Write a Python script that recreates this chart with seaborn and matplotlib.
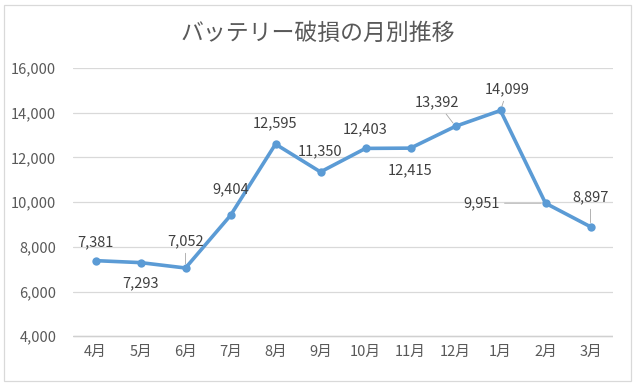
import matplotlib
matplotlib.use("Agg")
import matplotlib.pyplot as plt
import seaborn as sns
import pandas as pd
from matplotlib.patches import Rectangle

months = ["4月", "5月", "6月", "7月", "8月", "9月", "10月", "11月", "12月", "1月", "2月", "3月"]
values = [7381, 7293, 7052, 9404, 12595, 11350, 12403, 12415, 13392, 14099, 9951, 8897]
yticks = [4000, 6000, 8000, 10000, 12000, 14000, 16000]
title = "バッテリー破損の月別推移"

# label offsets in points (dx, dy) and whether to draw leader line
label_offsets = [(0, 13), (0, -15), (0, 19), (0, 19), (0, 15), (0, 15), (0, 14), (0, -16), (-13, 17), (5, 15), (-46, 0), (0, 21)]
leaders = [False, False, True, False, False, False, False, False, True, True, True, True]

sns.set_theme(style="white")
plt.rcParams['font.family'] = ['Noto Sans CJK JP', 'DejaVu Sans']

df = pd.DataFrame({"month": months, "value": values})

fig = plt.figure(figsize=(6.36, 3.85), dpi=100)
ax = fig.add_axes([73/636, 1-338/385, 540/636, 270/385])

sns.lineplot(data=df, x="month", y="value", ax=ax, color="#5B9BD5", linewidth=2.6,
             marker="o", markersize=6, markeredgewidth=0, sort=False, zorder=3)

ax.set_ylim(3920, 16000)
ax.set_yticks(yticks)
ax.set_yticklabels([f"{v:,}" for v in yticks])
ax.set_xlim(-0.5, len(months) - 0.5)
ax.yaxis.grid(True, color="#D9D9D9", linewidth=0.9)
ax.set_axisbelow(True)
ax.axhline(yticks[0], color="#D0D0D0", linewidth=1.0, zorder=1)
for s in ax.spines.values():
    s.set_visible(False)
ax.set_xlabel("")
ax.set_ylabel("")
ax.tick_params(axis="both", colors="#595959", labelsize=10.5, length=0)
ax.tick_params(axis="y", pad=12)
ax.tick_params(axis="x", pad=5)

for i, (v, (dx, dy), ld) in enumerate(zip(values, label_offsets, leaders)):
    kw = {}
    if ld:
        kw["arrowprops"] = dict(arrowstyle="-", color="#A6A6A6", linewidth=0.6, shrinkA=1, shrinkB=3)
    ax.annotate(f"{v:,}", xy=(i, v), xytext=(dx, dy), textcoords="offset points",
                ha="center", va="center", fontsize=10.5, color="#404040", **kw)

fig.text(0.5, 1-33/385, title, ha="center", va="center", fontsize=16.5, color="#595959")

fig.patches.append(Rectangle((4/636, 4/385), 627/636, 376/385, transform=fig.transFigure,
                             fill=False, edgecolor="#D9D9D9", linewidth=0.9))

fig.savefig("out.png", dpi=100, facecolor="white")
